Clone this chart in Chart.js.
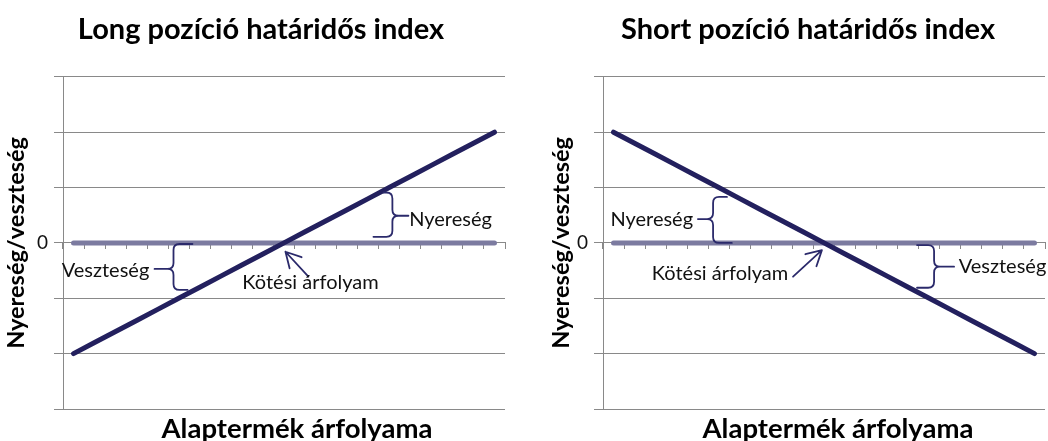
<!DOCTYPE html>
<html lang="hu">
<head>
<meta charset="utf-8">
<title>Határidős index</title>
<script src="https://cdn.jsdelivr.net/npm/chart.js@4.4.1/dist/chart.umd.min.js"></script>
<style>
  html, body { margin: 0; padding: 0; background: #fff; overflow: hidden; }
  body { width: 1048px; height: 441px; position: relative; }
  canvas { position: absolute; top: 0; }
  #longChart { left: 0; }
  #shortChart { left: 545px; }
</style>
</head>
<body>
<canvas id="longChart" width="522" height="441"></canvas>
<canvas id="shortChart" width="526" height="441"></canvas>
<script>
// Adatok
const arfolyamok = ['1', '2', '3', '4', '5', '6', '7', '8', '9', '10', '11',
                    '12', '13', '14', '15', '16', '17', '18', '19', '20', '21'];
const longEredmeny = [-2, -1.8, -1.6, -1.4, -1.2, -1, -0.8, -0.6, -0.4, -0.2, 0,
                      0.2, 0.4, 0.6, 0.8, 1, 1.2, 1.4, 1.6, 1.8, 2];
const shortEredmeny = [2, 1.8, 1.6, 1.4, 1.2, 1, 0.8, 0.6, 0.4, 0.2, 0,
                       -0.2, -0.4, -0.6, -0.8, -1, -1.2, -1.4, -1.6, -1.8, -2];
const nullaVonal = [0, 0, 0, 0, 0, 0, 0, 0, 0, 0, 0, 0, 0, 0, 0, 0, 0, 0, 0, 0, 0];
const yTickek = [-3, -2, -1, 0, 1, 2, 3];

const SOTETKEK = '#23205e';
const SZURKELILA = '#7c7ba0';
const RACS = '#898989';

Chart.defaults.font.family = 'Lato';
Chart.defaults.color = '#000';

// Kapcsos zárójelek, nyilak, feliratok rajzolása (adat-koordinátákban)
const jelolesPlugin = {
    id: 'jelolesek',
    beforeDraw(chart, args, opts) {
        // az x tengely címe kicsit jobbra áll, mint a rajzterület közepe
        const s = chart.scales.x2;
        s.left += opts.xCimEltolas;
        s.right += opts.xCimEltolas;
    },
    afterDatasetsDraw(chart, args, opts) {
        const ctx = chart.ctx;
        const x = chart.scales.x;
        const y = chart.scales.y;
        const px = (i) => x.getPixelForValue(i);
        const py = (v) => y.getPixelForValue(v);
        ctx.save();
        ctx.strokeStyle = '#2b2a6b';
        ctx.lineWidth = 1.8;
        ctx.lineJoin = 'round';
        ctx.lineCap = 'round';

        (opts.kapcsok || []).forEach(k => {
            const x0 = px(k.i);
            const yT = py(k.fent);
            const yB = py(k.lent);
            const yM = py(k.csucs);
            const d = k.csucsI < k.i ? -1 : 1; // merre mutat a csúcs
            const r = 6;
            ctx.beginPath();
            ctx.moveTo(px(k.vegFent), yT);
            ctx.lineTo(x0 - d * r, yT);
            ctx.quadraticCurveTo(x0, yT, x0, yT + r);
            ctx.lineTo(x0, yM - r);
            ctx.quadraticCurveTo(x0, yM, x0 + d * r, yM);
            ctx.quadraticCurveTo(x0, yM, x0, yM + r);
            ctx.lineTo(x0, yB - r);
            ctx.quadraticCurveTo(x0, yB, x0 - d * r, yB);
            ctx.lineTo(px(k.vegLent), yB);
            ctx.moveTo(x0 + d * r, yM);
            ctx.lineTo(px(k.csucsI), yM);
            ctx.stroke();
        });

        (opts.nyilak || []).forEach(n => {
            const x1 = px(n.honnanI), y1 = py(n.honnan);
            const x2 = px(n.hovaI), y2 = py(n.hova);
            const szog = Math.atan2(y2 - y1, x2 - x1);
            const h = 17;
            ctx.beginPath();
            ctx.moveTo(x1, y1);
            ctx.lineTo(x2, y2);
            ctx.moveTo(x2 - h * Math.cos(szog - 0.5), y2 - h * Math.sin(szog - 0.5));
            ctx.lineTo(x2, y2);
            ctx.lineTo(x2 - h * Math.cos(szog + 0.5), y2 - h * Math.sin(szog + 0.5));
            ctx.stroke();
        });

        ctx.fillStyle = '#111';
        ctx.font = '20px Lato';
        ctx.textBaseline = 'middle';
        (opts.feliratok || []).forEach(f => {
            ctx.textAlign = f.igazitas;
            ctx.fillText(f.szoveg, px(f.i), py(f.v));
        });
        ctx.restore();
    }
};

function diagram(canvasId, cim, adatok, yCimPadding, jobbSzel, yTengelySzel, jelolesek) {
    return new Chart(document.getElementById(canvasId), {
        type: 'line',
        data: {
            labels: arfolyamok,
            datasets: [{
                label: 'Eredmény',
                data: adatok,
                borderColor: SOTETKEK,
                borderWidth: 5,
                borderCapStyle: 'round',
                pointRadius: 0,
                tension: 0
            }, {
                label: 'Nulla',
                data: nullaVonal,
                borderColor: SZURKELILA,
                borderWidth: 5,
                borderCapStyle: 'round',
                pointRadius: 0,
                tension: 0
            }]
        },
        options: {
            responsive: false,
            animation: false,
            events: [],
            layout: { padding: 0 },
            plugins: {
                legend: { display: false },
                tooltip: { enabled: false },
                title: {
                    display: true,
                    text: cim,
                    color: '#000',
                    font: { size: 29, weight: 'bold', lineHeight: 1.2 },
                    padding: { top: 12, bottom: 30 }
                },
                jelolesek: jelolesek
            },
            scales: {
                x: {
                    type: 'category',
                    position: { y: 0 },
                    offset: true,
                    grid: {
                        offset: true,
                        drawOnChartArea: false,
                        drawTicks: true,
                        tickLength: 6,
                        color: RACS
                    },
                    border: { display: true, color: RACS },
                    ticks: { callback: () => '' }
                },
                x2: {
                    type: 'category',
                    position: 'bottom',
                    grid: { display: false },
                    border: { display: false },
                    ticks: { display: false },
                    title: {
                        display: true,
                        text: 'Alaptermék árfolyama',
                        color: '#000',
                        font: { size: 27.5, weight: 'bold', lineHeight: 0.9 },
                        padding: { top: 0, bottom: 0 }
                    },
                    afterFit: (s) => { s.height = 32; }
                },
                y: {
                    min: -3,
                    max: 3,
                    afterBuildTicks: (s) => { s.ticks = yTickek.map(v => ({ value: v })); },
                    grid: {
                        color: RACS,
                        lineWidth: 1,
                        tickLength: 9
                    },
                    border: { display: true, color: RACS },
                    ticks: {
                        padding: 6,
                        color: '#111',
                        font: { size: 19 },
                        callback: (v) => v === 0 ? '0' : ''
                    },
                    title: {
                        display: true,
                        text: 'Nyereség/veszteség',
                        color: '#000',
                        font: { size: 23.5, weight: 'bold', lineHeight: 1 },
                        padding: { top: yCimPadding, bottom: 0 }
                    },
                    afterFit: (s) => { s.width = yTengelySzel; }
                },
                // üres jobb oldali sáv, hogy a cím a vászon közepén maradjon
                jobb: {
                    type: 'linear',
                    position: 'right',
                    grid: { display: false },
                    border: { display: false },
                    ticks: { display: false },
                    afterFit: (s) => { s.width = jobbSzel; }
                }
            }
        },
        plugins: [jelolesPlugin]
    });
}

diagram('longChart', 'Long pozíció határidős index', longEredmeny, 5, 17, 63, {
    xCimEltolas: 13,
    kapcsok: [
        { i: 4.75, fent: -0.02, lent: -0.85, csucs: -0.47, csucsI: 3.85, vegFent: 5.65, vegLent: 5.42 },
        { i: 15.15, fent: 0.91, lent: 0.11, csucs: 0.49, csucsI: 15.91, vegFent: 14.73, vegLent: 14.25 }
    ],
    nyilak: [
        { honnanI: 11.16, honnan: -0.61, hovaI: 10.07, hova: -0.16 }
    ],
    feliratok: [
        { szoveg: 'Veszteség', i: 3.6, v: -0.5, igazitas: 'right' },
        { szoveg: 'Nyereség', i: 15.95, v: 0.43, igazitas: 'left' },
        { szoveg: 'Kötési árfolyam', i: 11.26, v: -0.72, igazitas: 'center' }
    ]
});

diagram('shortChart', 'Short pozíció határidős index', shortEredmeny, 4.5, 26, 58, {
    xCimEltolas: 14,
    kapcsok: [
        { i: 4.73, fent: 0.83, lent: 0.0, csucs: 0.43, csucsI: 4.01, vegFent: 5.39, vegLent: 5.62 },
        { i: 15.23, fent: -0.04, lent: -0.81, csucs: -0.43, csucsI: 16.18, vegFent: 14.42, vegLent: 14.42 }
    ],
    nyilak: [
        { honnanI: 8.53, honnan: -0.61, hovaI: 9.9, hova: -0.13 }
    ],
    feliratok: [
        { szoveg: 'Nyereség', i: 3.78, v: 0.43, igazitas: 'right' },
        { szoveg: 'Veszteség', i: 16.4, v: -0.43, igazitas: 'left' },
        { szoveg: 'Kötési árfolyam', i: 5.06, v: -0.56, igazitas: 'center' }
    ]
});
</script>
</body>
</html>
